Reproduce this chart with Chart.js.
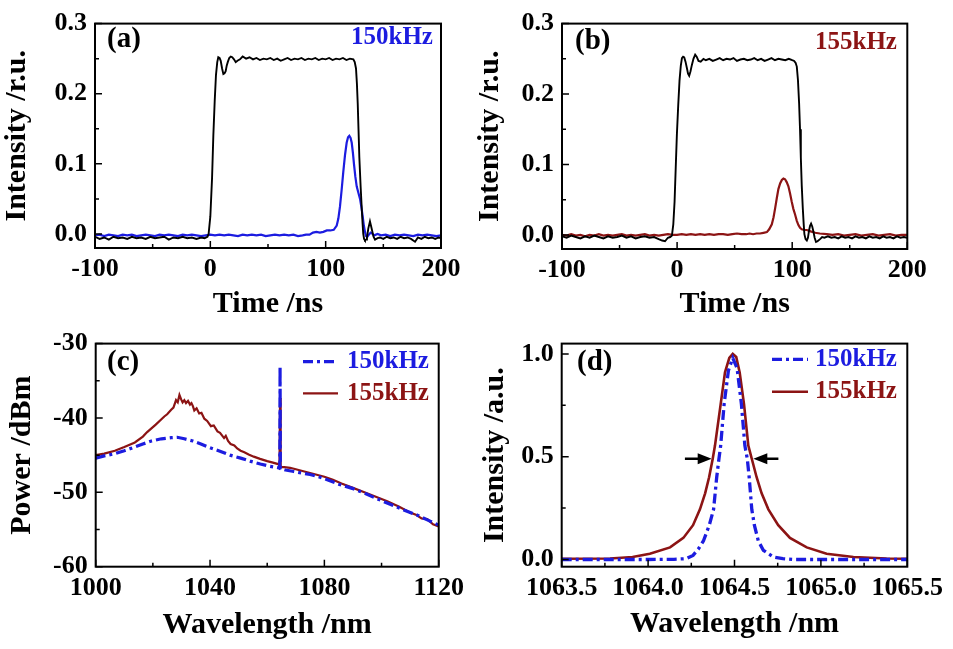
<!DOCTYPE html>
<html>
<head>
<meta charset="utf-8">
<title>Pulse traces and spectra</title>
<script src="https://cdn.jsdelivr.net/npm/chart.js@4.4.1/dist/chart.umd.min.js"></script>
<style>
  html, body { margin: 0; padding: 0; background: #fff; }
  #wrap { position: relative; width: 953px; height: 649px; overflow: hidden; }
  canvas { position: absolute; }
</style>
</head>
<body>
<div id="wrap">
  <canvas id="chartA" width="470" height="320" style="left:0;top:0"></canvas>
  <canvas id="chartB" width="483" height="320" style="left:470px;top:0"></canvas>
  <canvas id="chartC" width="470" height="329" style="left:0;top:320px"></canvas>
  <canvas id="chartD" width="483" height="329" style="left:470px;top:320px"></canvas>
</div>
<script>
// ---- data ----

// (a) pump pulse (black) and 150 kHz signal (blue), [time ns, intensity r.u.]
const pumpA = [
  [-100, -0.004], [-96, -0.007], [-92, -0.005], [-88, -0.008], [-84, -0.004], [-80, -0.006],
  [-76, -0.005], [-72, -0.007], [-68, -0.004], [-64, -0.006], [-60, -0.005], [-56, -0.007],
  [-52, -0.004], [-48, -0.006], [-44, -0.005], [-40, -0.004], [-36, -0.008], [-32, -0.005],
  [-28, -0.006], [-24, -0.004], [-20, -0.006], [-16, -0.005], [-12, -0.007], [-8, -0.005],
  [-5, -0.006], [-2.5, -0.004], [-1.5, 0.0], [0, 0.025], [1.5, 0.08], [2.6, 0.14], [3.8, 0.19],
  [4.9, 0.227], [6, 0.245], [6.9, 0.252], [8, 0.251], [9, 0.247], [10.2, 0.236], [11.3, 0.228],
  [12.3, 0.229], [13.3, 0.232], [14.2, 0.24], [15.1, 0.245], [16.4, 0.251], [17.7, 0.253],
  [19, 0.252], [20.5, 0.249], [22, 0.245], [23.5, 0.247], [25.7, 0.249], [28, 0.253],
  [31, 0.25], [34, 0.252], [37, 0.249], [40, 0.251], [43, 0.248], [46, 0.25], [49, 0.249],
  [52, 0.251], [55, 0.248], [58, 0.25], [61, 0.247], [64, 0.249], [67, 0.251], [70, 0.248],
  [73, 0.25], [76, 0.249], [79, 0.251], [82, 0.248], [85, 0.25], [88, 0.249], [91, 0.251],
  [94, 0.248], [97, 0.25], [100, 0.249], [103, 0.251], [106, 0.248], [109, 0.25], [112, 0.249],
  [115, 0.251], [118, 0.248], [121, 0.25], [124, 0.249], [125.2, 0.245], [126.3, 0.236],
  [127.1, 0.214], [127.8, 0.186], [128.5, 0.148], [129.2, 0.109], [130.3, 0.068], [131.3, 0.036],
  [132, 0.015], [132.6, 0.0], [133.3, -0.007], [134.1, -0.009], [135, -0.008], [135.8, -0.005],
  [137, 0.008], [138.4, 0.018], [139.4, 0.011], [140.4, 0.004], [141.5, -0.004], [142.8, -0.008],
  [145, -0.006], [147, -0.005], [150, -0.007], [153, -0.004], [156, -0.006], [159, -0.005],
  [162, -0.007], [165, -0.004], [168, -0.006], [171, -0.005], [174, -0.007], [177.5, -0.011],
  [180, -0.005], [183, -0.007], [186, -0.004], [189, -0.006], [192, -0.005], [195, -0.007],
  [198, -0.005], [200, -0.006]
];
const signalA = [
  [-100, -0.002], [-96, -0.001], [-92, -0.003], [-88, -0.001], [-84, -0.002], [-80, -0.003],
  [-76, -0.001], [-72, -0.002], [-68, -0.001], [-64, -0.003], [-60, -0.002], [-56, -0.001],
  [-52, -0.002], [-48, -0.003], [-44, -0.001], [-40, -0.002], [-36, -0.001], [-32, -0.002],
  [-28, -0.003], [-24, -0.001], [-20, -0.002], [-16, -0.001], [-12, -0.002], [-8, -0.003],
  [-4, -0.002], [0, -0.001], [4, -0.002], [8, -0.001], [12, -0.002], [16, -0.001], [20, -0.002],
  [24, -0.003], [28, -0.001], [32, -0.002], [36, -0.001], [40, -0.002], [44, -0.001],
  [48, -0.003], [52, -0.002], [56, -0.001], [60, -0.002], [64, -0.001], [68, -0.002],
  [72, -0.001], [76, -0.003], [80, -0.002], [83, -0.001], [86, -0.001], [89, 0.002], [92, 0.003],
  [95, 0.002], [98, 0.003], [101, 0.005], [104, 0.005], [107, 0.006], [109.6, 0.012],
  [111, 0.022], [112.4, 0.039], [113.8, 0.062], [115.3, 0.089], [116.8, 0.113], [118.2, 0.13],
  [119.4, 0.138], [120.5, 0.14], [121.6, 0.137], [122.6, 0.13], [123.6, 0.116], [124.6, 0.099],
  [125.7, 0.082], [126.9, 0.068], [128.3, 0.059], [129.8, 0.05], [131, 0.038], [132.1, 0.025],
  [133.1, 0.012], [134.1, 0.003], [135, -0.003], [136.1, -0.004], [137.5, -0.001], [139, 0.002],
  [140, 0.001], [142, -0.002], [145, 0.0], [148, -0.002], [152, -0.001], [156, -0.003],
  [160, -0.001], [164, -0.002], [168, -0.001], [172, -0.002], [176, -0.003], [180, -0.001],
  [184, -0.002], [188, -0.001], [192, -0.002], [196, -0.003], [200, -0.002]
];

// (b) pump pulse (black) and 155 kHz signal (dark red)
const pumpB = [
  [-100, -0.002], [-96, -0.004], [-92, -0.001], [-88, -0.003], [-84, -0.005], [-80, -0.002],
  [-76, -0.004], [-72, -0.001], [-68, -0.003], [-64, -0.005], [-60, -0.002], [-56, -0.004],
  [-52, -0.003], [-48, -0.001], [-44, -0.004], [-40, -0.002], [-36, -0.005], [-32, -0.003],
  [-28, -0.002], [-24, -0.004], [-20, -0.003], [-16, -0.006], [-13, -0.008], [-10.5, -0.009],
  [-8, -0.004], [-6, -0.003], [-4.5, -0.001], [-3.3, 0.015], [-2.2, 0.047], [-1.2, 0.095],
  [-0.2, 0.142], [1, 0.185], [2.1, 0.219], [3.2, 0.24], [4.2, 0.251], [5.2, 0.253], [6.2, 0.252],
  [7.3, 0.246], [8.5, 0.237], [9.5, 0.229], [10.5, 0.226], [11.6, 0.232], [12.8, 0.241],
  [14.2, 0.25], [15.7, 0.256], [17, 0.253], [18.6, 0.247], [20.5, 0.246], [22.9, 0.25],
  [25, 0.248], [28, 0.25], [31, 0.247], [34, 0.249], [37, 0.251], [40, 0.248], [43, 0.25],
  [46, 0.249], [49, 0.251], [52, 0.247], [55, 0.249], [58, 0.25], [61, 0.248], [64, 0.249],
  [67, 0.251], [70, 0.248], [73, 0.25], [76, 0.247], [79, 0.249], [82, 0.251], [85, 0.248],
  [88, 0.25], [91, 0.249], [94, 0.248], [97, 0.25], [100, 0.248], [101.7, 0.247], [103, 0.244],
  [104, 0.239], [105, 0.22], [106, 0.187], [106.8, 0.15], [107.5, 0.11], [108.3, 0.07],
  [109.2, 0.038], [110, 0.015], [110.6, 0.001], [111.6, -0.006], [112.7, -0.008],
  [113.7, -0.004], [114.6, 0.006], [115.5, 0.013], [116.4, 0.016], [117.4, 0.012],
  [118.4, 0.005], [119.5, -0.004], [120.7, -0.01], [122, -0.009], [124.2, -0.006], [126, -0.003],
  [128, -0.004], [131, -0.002], [134, -0.004], [137, -0.003], [140, -0.005], [143, -0.002],
  [146, -0.004], [149, -0.003], [152, -0.005], [155, -0.002], [158, -0.004], [161, -0.003],
  [164, -0.005], [167, -0.002], [170, -0.004], [173, -0.003], [176, -0.005], [179, -0.002],
  [182, -0.004], [185, -0.003], [188, -0.005], [191, -0.002], [194, -0.004], [197, -0.003],
  [200, -0.004]
];
const signalB = [
  [-100, 0.0], [-96, -0.001], [-92, 0.001], [-88, -0.001], [-84, 0.0], [-80, -0.002],
  [-76, 0.0], [-72, -0.001], [-68, 0.001], [-64, -0.001], [-60, 0.0], [-56, -0.001],
  [-52, 0.0], [-48, 0.001], [-44, -0.001], [-40, 0.0], [-36, -0.001], [-32, 0.0],
  [-28, 0.001], [-24, -0.001], [-20, 0.0], [-16, -0.001], [-12, 0.0], [-8, 0.001], [-4, 0.0],
  [0, 0.0], [4, 0.001], [8, 0.0], [12, 0.001], [16, 0.0], [20, 0.001], [24, 0.0], [28, 0.001],
  [32, 0.0], [36, 0.001], [40, 0.001], [44, 0.0], [48, 0.001], [52, 0.002], [56, 0.001],
  [60, 0.001], [63, 0.002], [66, 0.001], [69, 0.002], [72, 0.002], [75, 0.003], [78, 0.004],
  [80, 0.008], [82.3, 0.015], [83.8, 0.025], [85.2, 0.038], [86.6, 0.052], [88, 0.065],
  [89.5, 0.073], [91, 0.078], [92.4, 0.08], [93.8, 0.079], [95.2, 0.075], [96.7, 0.069],
  [98.1, 0.059], [99.6, 0.047], [101, 0.037], [102.5, 0.029], [104, 0.02], [105.4, 0.014],
  [106.8, 0.01], [108.3, 0.008], [110.5, 0.007], [112.7, 0.007], [116, 0.005], [120, 0.003],
  [124, 0.002], [130, 0.001], [135, 0.0], [140, 0.001], [145, -0.001], [150, 0.0], [155, 0.001],
  [160, -0.001], [165, 0.0], [170, 0.001], [175, -0.001], [180, 0.0], [185, 0.001],
  [190, -0.001], [195, 0.0], [200, 0.0]
];

// (c) output spectra, [wavelength nm, power dBm]
const spec150 = [
  [1000, -45.4], [1003, -45.1], [1006.7, -44.8], [1010, -44.4], [1013.7, -43.9], [1016.5, -43.5],
  [1019.5, -43.1], [1023, -42.8], [1026.4, -42.65], [1028.5, -42.6], [1031, -42.8], [1034, -43.1],
  [1036.8, -43.5], [1040, -44.0], [1043.7, -44.5], [1047, -45.0], [1050.7, -45.4], [1054, -45.8],
  [1057.6, -46.2], [1061, -46.5], [1064, -46.7], [1064.4, -46.7], [1064.5, -33.1],
  [1064.6, -46.8], [1066.4, -47.0], [1069.3, -47.2], [1072, -47.4], [1075, -47.6], [1078, -47.9],
  [1081, -48.3], [1085, -48.9], [1090, -49.5], [1094, -50.1], [1098, -50.8], [1103, -51.6],
  [1108, -52.4], [1112.7, -53.1], [1116, -53.7], [1120, -54.4]
];
const spec155 = [
  [1000, -45.0], [1003, -44.8], [1006.7, -44.4], [1010, -43.9], [1013.7, -43.3], [1016.5, -42.5],
  [1018, -41.9], [1019.5, -41.4], [1021, -40.9], [1022.9, -40.2], [1024, -39.8], [1025, -39.5],
  [1026.4, -38.9], [1027.2, -38.6], [1028.1, -37.6], [1028.7, -37.9], [1029.3, -36.9],
  [1029.9, -37.5], [1030.4, -37.9], [1031, -37.6], [1031.6, -38.0], [1032.3, -37.7], [1033, -38.2],
  [1033.5, -38.0], [1034, -38.4], [1034.5, -39.0], [1035.3, -38.7], [1036.2, -39.4], [1037, -39.3],
  [1038, -40.1], [1039, -40.4], [1040.3, -41.1], [1041.3, -41.0], [1042.6, -41.8], [1043.5, -42.0],
  [1044.9, -42.7], [1045.5, -42.4], [1046.3, -43.1], [1047.2, -43.5], [1048.5, -43.7],
  [1049.5, -44.1], [1050.7, -44.4], [1052, -44.6], [1053.5, -44.9], [1055.3, -45.2],
  [1057.5, -45.5], [1060, -45.8], [1062, -46.0], [1063.8, -46.2], [1064.3, -46.4],
  [1064.5, -37.3], [1064.7, -46.6], [1066, -46.6], [1068, -46.7], [1070, -46.9], [1072, -47.1],
  [1075, -47.4], [1078, -47.7], [1080, -47.9], [1083, -48.3], [1086, -48.8], [1090, -49.4],
  [1094, -50.0], [1098, -50.6], [1102, -51.2], [1106, -51.9], [1110, -52.7], [1112, -53.0],
  [1114, -53.5], [1116, -53.6], [1118, -54.3], [1120, -54.6]
];

// (d) normalised signal lines, [wavelength nm, intensity a.u.]
const line150 = [
  [1063.5, 0.0], [1063.8, 0.0], [1064.0, 0.0], [1064.15, 0.001], [1064.22, 0.004],
  [1064.26, 0.02], [1064.29, 0.05], [1064.32, 0.09], [1064.354, 0.167], [1064.379, 0.244],
  [1064.397, 0.4], [1064.41, 0.49], [1064.42, 0.554], [1064.44, 0.756], [1064.465, 0.92],
  [1064.49, 0.98], [1064.515, 0.93], [1064.54, 0.756], [1064.56, 0.554], [1064.574, 0.49],
  [1064.585, 0.4], [1064.6, 0.244], [1064.615, 0.167], [1064.638, 0.09], [1064.667, 0.045],
  [1064.725, 0.012], [1064.78, 0.004], [1064.84, 0.0], [1065.2, 0.0], [1065.5, 0.0]
];
const line155 = [
  [1063.5, 0.004], [1063.78, 0.005], [1063.91, 0.012], [1064.01, 0.028], [1064.127, 0.059],
  [1064.204, 0.105], [1064.26, 0.167], [1064.3, 0.244], [1064.33, 0.322], [1064.353, 0.4],
  [1064.374, 0.49], [1064.387, 0.554], [1064.42, 0.756], [1064.445, 0.91], [1064.47, 0.98],
  [1064.49, 1.0], [1064.51, 0.985], [1064.53, 0.91], [1064.555, 0.756], [1064.58, 0.554],
  [1064.6, 0.49], [1064.628, 0.4], [1064.657, 0.322], [1064.696, 0.244], [1064.753, 0.167],
  [1064.821, 0.105], [1064.918, 0.059], [1065.033, 0.028], [1065.188, 0.012], [1065.38, 0.005],
  [1065.5, 0.004]
];
// FWHM arrows: [from nm, to nm, level]
const fwhmArrows = [[1064.213, 1064.368, 0.49], [1064.754, 1064.609, 0.49]];

// tick values: major (labelled) and minor
const timeMajor = [-100, 0, 100, 200];
const timeMinor = [-50, 50, 150];
const intMajor = [0.0, 0.1, 0.2, 0.3];
const intMinor = [0.05, 0.15, 0.25];
const wlMajor = [1000, 1040, 1080, 1120];
const wlMinor = [1020, 1060, 1100];
const dbmMajor = [-60, -50, -40, -30];
const dbmMinor = [-55, -45, -35];
const wlFineMajor = [1063.5, 1064.0, 1064.5, 1065.0, 1065.5];
const wlFineMinor = [1063.75, 1064.25, 1064.75, 1065.25];
const normMajor = [0.0, 0.5, 1.0];
const normMinor = [0.25, 0.75];

const BLUE = '#1c1ce0';
const DARK_RED = '#8c1414';
const FONT = '"Liberation Serif", "Times New Roman", serif';

Chart.defaults.font.family = FONT;
Chart.defaults.font.weight = 'bold';
Chart.defaults.color = '#000';

const toXY = (pts) => pts.map(([x, y]) => ({ x, y }));

// frame, inward ticks, in-plot texts, legend and arrows
const panelDecor = {
  id: 'panelDecor',
  afterDatasetsDraw(chart, args, opts) {
    const { ctx, chartArea: a, scales } = chart;
    ctx.save();
    ctx.strokeStyle = '#000';
    ctx.lineWidth = 2;
    ctx.strokeRect(a.left, a.top, a.right - a.left, a.bottom - a.top);

    ctx.lineWidth = 1.5;
    ctx.beginPath();
    scales.x.ticks.forEach((t) => {
      const px = scales.x.getPixelForValue(t.value);
      const len = t.label === '' ? 4 : 7;
      ctx.moveTo(px, a.bottom);
      ctx.lineTo(px, a.bottom - len);
    });
    scales.y.ticks.forEach((t) => {
      const py = scales.y.getPixelForValue(t.value);
      const len = t.label === '' ? 4 : 7;
      ctx.moveTo(a.left, py);
      ctx.lineTo(a.left + len, py);
    });
    ctx.stroke();

    ctx.textBaseline = 'middle';
    ctx.textAlign = 'left';
    (opts.texts || []).forEach((t) => {
      ctx.font = 'bold ' + t.size + 'px ' + FONT;
      ctx.fillStyle = t.color;
      ctx.fillText(t.text, t.x, t.y);
    });

    (opts.legend || []).forEach((l) => {
      const ds = chart.data.datasets[l.index];
      ctx.strokeStyle = ds.borderColor;
      ctx.lineWidth = ds.borderWidth;
      ctx.setLineDash(ds.borderDash || []);
      ctx.beginPath();
      ctx.moveTo(l.x1, l.y);
      ctx.lineTo(l.x2, l.y);
      ctx.stroke();
      ctx.setLineDash([]);
      ctx.font = 'bold 25px ' + FONT;
      ctx.fillStyle = ds.borderColor;
      ctx.fillText(ds.label, l.tx, l.y);
    });

    (opts.arrows || []).forEach(([from, to, level]) => {
      const x1 = scales.x.getPixelForValue(from);
      const x2 = scales.x.getPixelForValue(to);
      const y = scales.y.getPixelForValue(level);
      const dir = Math.sign(x2 - x1);
      ctx.strokeStyle = '#000';
      ctx.fillStyle = '#000';
      ctx.lineWidth = 2.5;
      ctx.beginPath();
      ctx.moveTo(x1, y);
      ctx.lineTo(x2 - dir * 10, y);
      ctx.stroke();
      ctx.beginPath();
      ctx.moveTo(x2, y);
      ctx.lineTo(x2 - dir * 14, y - 5.5);
      ctx.lineTo(x2 - dir * 14, y + 5.5);
      ctx.closePath();
      ctx.fill();
    });
    ctx.restore();
  }
};

function makeAxis(o) {
  const ticks = o.major.concat(o.minor).sort((p, q) => p - q);
  return {
    type: 'linear',
    min: o.min,
    max: o.max,
    grid: { display: false, drawTicks: false },
    border: { display: false },
    afterBuildTicks: (s) => { s.ticks = ticks.map((v) => ({ value: v })); },
    afterFit: (s) => {
      if (s.isHorizontal()) s.height = o.size;
      else s.width = o.size;
    },
    ticks: {
      autoSkip: false,
      maxRotation: 0,
      padding: o.pad,
      color: '#000',
      font: { size: 26 },
      callback: (v) => (o.major.includes(v) ? v.toFixed(o.digits) : '')
    },
    title: {
      display: true,
      text: o.title,
      color: '#000',
      font: { size: 30, lineHeight: 1 },
      padding: o.titlePad
    }
  };
}

function line(data, label, color, width, dash) {
  return {
    label,
    data: toXY(data),
    borderColor: color,
    backgroundColor: color,
    borderWidth: width,
    borderDash: dash || [],
    showLine: true,
    pointRadius: 0,
    tension: 0
  };
}

function makeChart(id, datasets, xAxis, yAxis, padding, decor) {
  return new Chart(document.getElementById(id), {
    type: 'scatter',
    data: { datasets },
    options: {
      responsive: false,
      animation: false,
      events: [],
      layout: { padding },
      scales: { x: xAxis, y: yAxis },
      plugins: { legend: { display: false }, tooltip: { enabled: false }, panelDecor: decor }
    },
    plugins: [panelDecor]
  });
}

const DASH_DOT = [10, 4, 3, 4];

// (a)
makeChart('chartA',
  [line(pumpA, 'pump', '#000', 1.9), line(signalA, '150kHz', BLUE, 2.2)],
  makeAxis({ min: -100, max: 200, major: timeMajor, minor: timeMinor, digits: 0, size: 72, pad: 6,
    title: 'Time /ns', titlePad: { top: 0, bottom: 1 } }),
  makeAxis({ min: -0.02, max: 0.3, major: intMajor, minor: intMinor, digits: 1, size: 95, pad: 8,
    title: 'Intensity /r.u.', titlePad: { top: 2, bottom: 0 } }),
  { top: 15, right: 29, left: 0, bottom: 0 },
  { texts: [
    { text: '(a)', x: 107, y: 40, size: 29, color: '#000' },
    { text: '150kHz', x: 351, y: 38, size: 25, color: BLUE }
  ] });

// (b)
makeChart('chartB',
  [line(pumpB, 'pump', '#000', 1.9), line(signalB, '155kHz', DARK_RED, 2.2)],
  makeAxis({ min: -100, max: 200, major: timeMajor, minor: timeMinor, digits: 0, size: 71, pad: 6,
    title: 'Time /ns', titlePad: { top: 0, bottom: 1 } }),
  makeAxis({ min: -0.02, max: 0.3, major: intMajor, minor: intMinor, digits: 1, size: 92, pad: 8,
    title: 'Intensity /r.u.', titlePad: { top: 5, bottom: 0 } }),
  { top: 16, right: 45.7, left: 0, bottom: 0 },
  { texts: [
    { text: '(b)', x: 105, y: 42, size: 29, color: '#000' },
    { text: '155kHz', x: 345, y: 43, size: 25, color: DARK_RED }
  ] });

// (c)
makeChart('chartC',
  [line(spec150, '150kHz', BLUE, 3.2, DASH_DOT), line(spec155, '155kHz', DARK_RED, 2.2)],
  makeAxis({ min: 1000, max: 1120, major: wlMajor, minor: wlMinor, digits: 0, size: 82.3, pad: 6,
    title: 'Wavelength /nm', titlePad: { top: 0, bottom: 9 } }),
  makeAxis({ min: -60, max: -30, major: dbmMajor, minor: dbmMinor, digits: 0, size: 95.7, pad: 8,
    title: 'Power /dBm', titlePad: { top: 7.7, bottom: 0 } }),
  { top: 13.3, right: 29, left: 0, bottom: 0 },
  { texts: [{ text: '(c)', x: 107, y: 43, size: 29, color: '#000' }],
    legend: [{ index: 0, x1: 303, x2: 338, y: 41.7, tx: 347 }, { index: 1, x1: 303, x2: 338, y: 73.3, tx: 347 }] });

// (d)
makeChart('chartD',
  [line(line150, '150kHz', BLUE, 3.3, DASH_DOT), line(line155, '155kHz', DARK_RED, 2.6)],
  makeAxis({ min: 1063.5, max: 1065.5, major: wlFineMajor, minor: wlFineMinor, digits: 1, size: 82.3, pad: 6,
    title: 'Wavelength /nm', titlePad: { top: 0, bottom: 10 } }),
  makeAxis({ min: -0.035, max: 1.05, major: normMajor, minor: normMinor, digits: 1, size: 91.7, pad: 8,
    title: 'Intensity /a.u.', titlePad: { top: 10, bottom: 0 } }),
  { top: 13.3, right: 45.7, left: 0, bottom: 0 },
  { texts: [{ text: '(d)', x: 107, y: 43, size: 29, color: '#000' }],
    legend: [{ index: 0, x1: 302, x2: 338, y: 39.3, tx: 345 }, { index: 1, x1: 302, x2: 338, y: 71.7, tx: 345 }],
    arrows: fwhmArrows });
</script>
</body>
</html>
